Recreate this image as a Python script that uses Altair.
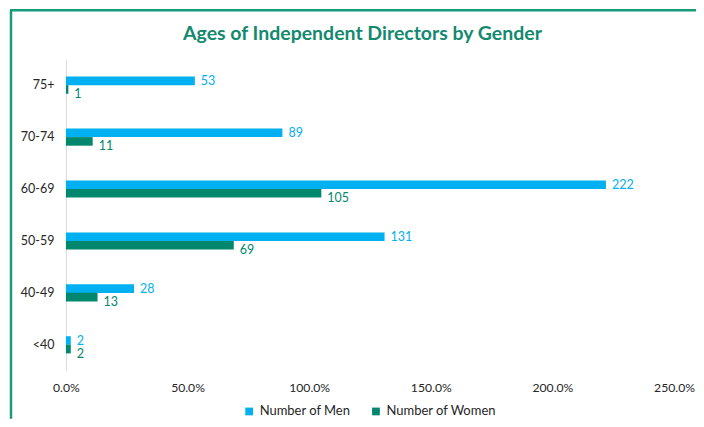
import altair as alt
import pandas as pd

ages = ["75+", "70-74", "60-69", "50-59", "40-49", "<40"]
men = [53, 89, 222, 131, 28, 2]
women = [1, 11, 105, 69, 13, 2]
genders = ["Number of Men", "Number of Women"]
x_ticks = [0, 0.5, 1.0, 1.5, 2.0, 2.5]
title_text = ["Ages of Independent Directors by Gender"]

rows = []
for a, m, w in zip(ages, men, women):
    rows.append({"Age": a, "Gender": genders[0], "Count": m, "Share": m / 100})
    rows.append({"Age": a, "Gender": genders[1], "Count": w, "Share": w / 100})
df = pd.DataFrame(rows)

MEN_C = "#00B0F0"
WOMEN_C = "#00876E"
FONT = "Lato"

y_enc = alt.Y("Age:N", sort=ages, title=None,
              scale=alt.Scale(paddingInner=0.67, paddingOuter=0.335),
              axis=alt.Axis(domainColor="#d9d9d9", ticks=False, labelPadding=12,
                            labelFontSize=12.5, labelColor="#262626", labelFont=FONT))
yoff = alt.YOffset("Gender:N", sort=genders, scale=alt.Scale(paddingInner=0, paddingOuter=0))
x_enc = alt.X("Share:Q", title=None,
              scale=alt.Scale(domain=[0, 2.5], nice=False),
              axis=alt.Axis(values=x_ticks, format=".1%", grid=False, domain=False, ticks=False,
                            labelFlush=False, labelPadding=11, labelFontSize=12.2,
                            labelColor="#262626", labelFont=FONT))
color = alt.Color("Gender:N", sort=genders,
                  scale=alt.Scale(domain=genders, range=[MEN_C, WOMEN_C]),
                  legend=alt.Legend(orient="none", legendX=177, legendY=346, direction="horizontal",
                                    title=None, symbolType="square", symbolSize=60,
                                    labelFontSize=13, labelFont=FONT, labelColor="#262626",
                                    columnPadding=18, symbolStrokeWidth=0))

base = alt.Chart(df)
bars = base.mark_bar(size=8.6).encode(y=y_enc, yOffset=yoff, x=x_enc, color=color)

men_text = base.transform_filter(alt.datum.Gender == genders[0]).mark_text(
    align="left", baseline="middle", dx=6, fontSize=12.5, font=FONT, color=MEN_C
).encode(y=alt.Y("Age:N", sort=ages), yOffset=yoff, x="Share:Q", text="Count:Q")

women_text = base.transform_filter(alt.datum.Gender == genders[1]).mark_text(
    align="left", baseline="middle", dx=6, dy=5, fontSize=12.5, font=FONT, color=WOMEN_C
).encode(y=alt.Y("Age:N", sort=ages), yOffset=yoff, x="Share:Q", text="Count:Q")

title = alt.Chart(pd.DataFrame({"t": title_text})).mark_text(
    fontSize=19.5, font=FONT, fontWeight="bold", color="#138A6E", align="center", baseline="middle"
).encode(text="t:N", x=alt.value(297), y=alt.value(-25))

border_left = alt.Chart(pd.DataFrame({"k": [0]})).mark_rule(color="#1a9a7a", strokeWidth=2.5).encode(
    x=alt.value(-55), y=alt.value(-49), y2=alt.value(360))
border_top = alt.Chart(pd.DataFrame({"k": [0]})).mark_rule(color="#1a9a7a", strokeWidth=2.5).encode(
    x=alt.value(-56), x2=alt.value(640), y=alt.value(-49))

chart = alt.layer(bars, men_text, women_text, title, border_left, border_top).properties(
    width=609, height=312,
    autosize=alt.AutoSizeParams(type="none"),
    padding={"left": 58, "top": 51, "right": 22, "bottom": 48},
).configure_view(stroke=None)

chart.save("out.html", embed_options={"renderer": "svg", "actions": False})
